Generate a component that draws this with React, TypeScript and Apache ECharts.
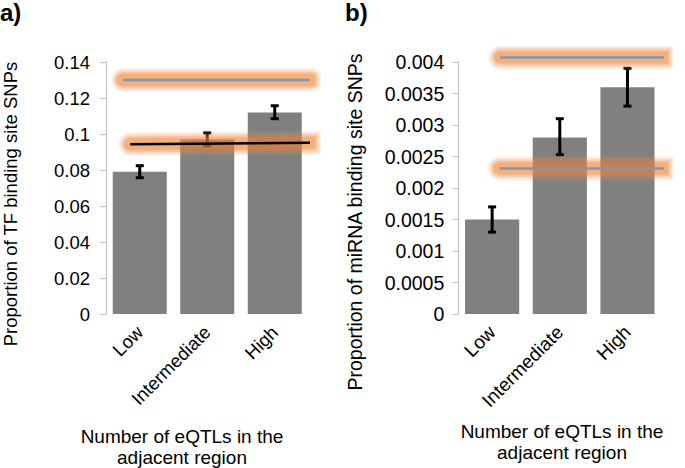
import React, { useEffect, useRef } from "react";
import * as echarts from "echarts";

const categories = ["Low", "Intermediate", "High"];

const tfValues = [0.079, 0.097, 0.112];
const tfErrLow = [0.0757, 0.0935, 0.1085];
const tfErrHigh = [0.0824, 0.1006, 0.1157];
const tfTicks = { min: 0, max: 0.14, interval: 0.02 };

const mirValues = [0.0015, 0.0028, 0.0036];
const mirErrLow = [0.0013, 0.00253, 0.0033];
const mirErrHigh = [0.0017, 0.0031, 0.0039];
const mirTicks = { min: 0, max: 0.004, interval: 0.0005 };

// reference lines: x in category-index units, y in data units
const tfBlueLineX = [-0.25, 2.54];
const tfBlueLineY = [0.13, 0.13];
const tfBlackLineX = [-0.14, 2.63];
const tfBlackLineY = [0.0943, 0.0952];
const mirBlueTopX = [0.12, 2.6];
const mirBlueTopY = [0.00407, 0.00407];
const mirBlueBottomX = [0.11, 2.6];
const mirBlueBottomY = [0.00231, 0.00231];

const FONT = "'Liberation Sans', Arial, sans-serif";
const AXIS_GREY = "#bfbfbf";
const BAR_GREY = "#808080";
const BLUE = "#8196b8";
const GLOW_LAYERS = [
  { width: 24, color: "rgba(242,150,85,0.14)" },
  { width: 20, color: "rgba(240,140,70,0.2)" },
  { width: 16, color: "rgba(237,125,49,0.25)" },
  { width: 12, color: "rgba(237,125,49,0.3)" },
];

function errorData(lo: number[], hi: number[]) {
  return lo.map((l, i) => [i, l, hi[i]]);
}

function pts(xs: number[], ys: number[]) {
  return xs.map((x, i) => [x, ys[i]]);
}

const errorRender = (params: any, api: any) => {
  const x = api.value(0);
  const pLo = api.coord([x, api.value(1)]);
  const pHi = api.coord([x, api.value(2)]);
  const hw = 4;
  const st = { stroke: "#000", lineWidth: 3 };
  return {
    type: "group",
    children: [
      { type: "line", shape: { x1: pLo[0], y1: pLo[1], x2: pHi[0], y2: pHi[1] }, style: st },
      { type: "line", shape: { x1: pLo[0] - hw, y1: pLo[1], x2: pLo[0] + hw, y2: pLo[1] }, style: st },
      { type: "line", shape: { x1: pHi[0] - hw, y1: pHi[1], x2: pHi[0] + hw, y2: pHi[1] }, style: st },
    ],
  };
};

function glowSeries(xIdx: number, yIdx: number, data: number[][]) {
  return GLOW_LAYERS.map((g) => ({
    type: "line",
    xAxisIndex: xIdx,
    yAxisIndex: yIdx,
    data,
    symbol: "none",
    clip: false,
    silent: true,
    z: 4,
    lineStyle: { color: g.color, width: g.width, cap: "round" },
  }));
}

function thinSeries(xIdx: number, yIdx: number, data: number[][], color: string, width: number) {
  return {
    type: "line",
    xAxisIndex: xIdx,
    yAxisIndex: yIdx,
    data,
    symbol: "none",
    clip: false,
    silent: true,
    z: 5,
    lineStyle: { color, width },
  };
}

function catAxis(gridIndex: number, fontSize: number) {
  return {
    type: "category",
    gridIndex,
    data: categories,
    axisLine: { show: false },
    axisTick: { show: false },
    axisLabel: {
      rotate: 45,
      interval: 0,
      fontSize,
      color: "#000",
      fontFamily: FONT,
      margin: 15,
    },
  };
}

function hiddenX(gridIndex: number) {
  return { type: "value", gridIndex, min: -0.5, max: 2.5, show: false };
}

function valAxis(gridIndex: number, t: any, margin: number, fontSize: number) {
  return {
    type: "value",
    gridIndex,
    min: t.min,
    max: t.max,
    interval: t.interval,
    splitLine: { show: false },
    axisLine: { show: true, onZero: false, lineStyle: { color: AXIS_GREY, width: 1 } },
    axisTick: { show: true, length: 6, lineStyle: { color: AXIS_GREY } },
    axisLabel: { fontSize, color: "#000", fontFamily: FONT, margin },
  };
}

function yTitle(text: string, x: number, y: number, size: number) {
  return {
    type: "text",
    x,
    y,
    rotation: Math.PI / 2,
    style: { text, font: `${size}px ${FONT}`, fill: "#000", align: "center", verticalAlign: "middle" },
  };
}

function xTitle(x: number, y: number, size: number) {
  return {
    type: "text",
    x,
    y,
    style: {
      text: "Number of eQTLs in the\nadjacent region",
      font: `${size}px ${FONT}`,
      lineHeight: 21,
      fill: "#000",
      align: "center",
      verticalAlign: "middle",
    },
  };
}

export default function App() {
  const ref = useRef<HTMLDivElement>(null);
  useEffect(() => {
    if (!ref.current) return;
    const chart = echarts.init(ref.current, undefined, { renderer: "svg" });
    const option: any = {
      animation: false,
      backgroundColor: "#fff",
      textStyle: { fontFamily: FONT },
      grid: [
        { left: 106, width: 202.5, top: 62, height: 252 },
        { left: 458.3, width: 203, top: 62, height: 252 },
      ],
      xAxis: [catAxis(0, 18.5), hiddenX(0), catAxis(1, 19), hiddenX(1)],
      yAxis: [valAxis(0, tfTicks, 16, 18.5), valAxis(1, mirTicks, 14, 19.5)],
      series: [
        {
          type: "bar",
          xAxisIndex: 0,
          yAxisIndex: 0,
          data: tfValues,
          barCategoryGap: "20%",
          itemStyle: { color: BAR_GREY },
          z: 2,
        },
        {
          type: "custom",
          xAxisIndex: 0,
          yAxisIndex: 0,
          data: errorData(tfErrLow, tfErrHigh),
          renderItem: errorRender,
          encode: { x: 0, y: [1, 2] },
          z: 3,
        },
        ...glowSeries(1, 0, pts(tfBlueLineX, tfBlueLineY)),
        thinSeries(1, 0, pts(tfBlueLineX, tfBlueLineY), BLUE, 2.5),
        ...glowSeries(1, 0, pts(tfBlackLineX, tfBlackLineY)),
        thinSeries(1, 0, pts(tfBlackLineX, tfBlackLineY), "#000", 2.5),
        {
          type: "bar",
          xAxisIndex: 2,
          yAxisIndex: 1,
          data: mirValues,
          barCategoryGap: "20%",
          itemStyle: { color: BAR_GREY },
          z: 2,
        },
        {
          type: "custom",
          xAxisIndex: 2,
          yAxisIndex: 1,
          data: errorData(mirErrLow, mirErrHigh),
          renderItem: errorRender,
          encode: { x: 0, y: [1, 2] },
          z: 3,
        },
        ...glowSeries(3, 1, pts(mirBlueTopX, mirBlueTopY)),
        thinSeries(3, 1, pts(mirBlueTopX, mirBlueTopY), BLUE, 2.5),
        ...glowSeries(3, 1, pts(mirBlueBottomX, mirBlueBottomY)),
        thinSeries(3, 1, pts(mirBlueBottomX, mirBlueBottomY), BLUE, 2.5),
      ],
      graphic: [
        { type: "text", left: 0, top: 0, style: { text: "a)", font: `bold 24px ${FONT}`, fill: "#000" } },
        { type: "text", left: 345, top: 0, style: { text: "b)", font: `bold 24px ${FONT}`, fill: "#000" } },
        yTitle("Proportion of TF binding site SNPs", 10, 204, 18.5),
        yTitle("Proportion of miRNA binding site SNPs", 355, 222, 19.5),
        xTitle(182, 447, 19),
        xTitle(562, 442, 19),
      ],
    };
    chart.setOption(option);
    return () => chart.dispose();
  }, []);
  return (
    <div
      ref={ref}
      style={{ position: "fixed", left: 0, top: 0, width: 685, height: 468, background: "#fff" }}
    />
  );
}
